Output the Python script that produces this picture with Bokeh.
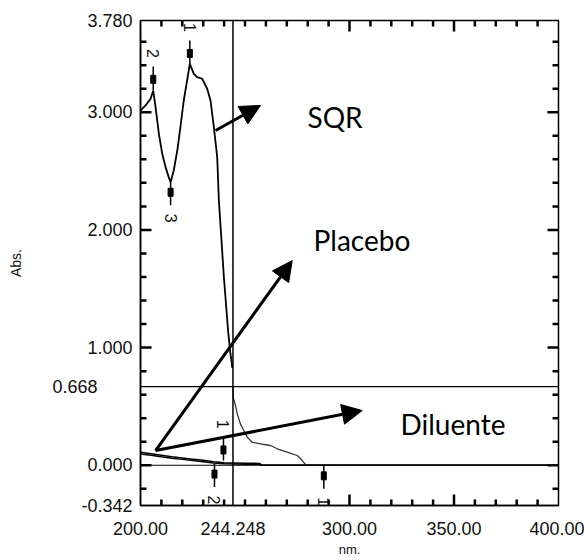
import math
import numpy as np
from bokeh.plotting import figure
from bokeh.models import (Range1d, LinearAxis, FixedTicker, Span, Label, Arrow,
                          NormalHead, ColumnDataSource)
from bokeh.core.properties import value
from bokeh.embed import file_html
from bokeh.resources import INLINE

# ---------------- data ----------------
sqr_upper_nm = [200.0, 202.4, 204.8, 206.1, 207.2, 208.8, 210.4, 212.0, 213.5, 214.4,
                215.9, 217.6, 219.1, 220.7, 222.3, 223.6, 225.5, 227.1, 229.5, 231.9,
                233.5, 235.1, 236.7, 237.5, 239.9, 241.9, 243.0, 243.6, 243.9]
sqr_upper_abs = [3.015, 3.058, 3.114, 3.185, 3.044, 2.817, 2.647, 2.534, 2.449, 2.406,
                 2.505, 2.675, 2.873, 3.100, 3.270, 3.412, 3.327, 3.299, 3.285, 3.200,
                 3.100, 2.873, 2.618, 2.250, 1.598, 1.145, 0.950, 0.880, 0.828]

sqr_lower_nm = [244.2, 244.4, 245.3, 246.3, 247.8, 249.4, 251.1, 253.4, 257.4, 262.2,
                265.4, 270.2, 275.0, 277.4, 279.0, 300.0, 350.0, 400.0]
sqr_lower_abs = [0.668, 0.570, 0.520, 0.437, 0.352, 0.295, 0.239, 0.196, 0.182, 0.168,
                 0.140, 0.111, 0.083, 0.040, 0.005, 0.0, 0.0, 0.0]

placebo_nm = [200, 205, 210, 215, 220, 225, 230, 235, 240, 245, 250, 257, 258, 280, 300, 350, 400]
placebo_abs = [0.110, 0.098, 0.085, 0.072, 0.062, 0.052, 0.042, 0.030, 0.022, 0.020, 0.018,
               0.016, 0.002, 0.001, 0.0, 0.0, 0.0]

diluente_nm = [200, 205, 210, 215, 220, 225, 230, 235, 240, 245, 250, 257, 258, 280, 300, 350, 400]
diluente_abs = [0.095, 0.085, 0.072, 0.060, 0.050, 0.040, 0.030, 0.020, 0.012, 0.010, 0.009,
                0.008, 0.001, 0.0, 0.0, 0.0, 0.0]

# peak / valley picks
peak_nm = [223.6, 206.1, 214.4, 239.7, 235.4, 287.7]
peak_abs = [3.41, 3.19, 2.41, 0.04, 0.015, 0.0]
peak_dir = [1, 1, -1, 1, -1, -1]
peak_label = ["1", "2", "3", "1", "2", "1"]

# cursor
cursor_nm = 244.248
cursor_abs = 0.668

# axes
x_ticks = [200.0, 244.248, 300.0, 350.0, 400.0]
x_tick_labels = ["200.00", "244.248", "300.00", "350.00", "400.00"]
x_minor = [210, 220, 230, 240, 250, 260, 270, 280, 290, 310, 320, 330, 340,
           360, 370, 380, 390]
y_ticks = [-0.342, 0.0, 0.668, 1.0, 2.0, 3.0, 3.78]
y_tick_labels = ["-0.342", "0.000", "0.668", "1.000", "2.000", "3.000", "3.780"]
y_minor = [-0.2, 0.2, 0.4, 0.6, 0.8, 1.2, 1.4, 1.6, 1.8, 2.2, 2.4, 2.6, 2.8,
           3.2, 3.4, 3.6]

# annotations (text + arrows)
ann_text = ["SQR", "Placebo", "Diluente"]
ann_x = [279.9, 282.8, 324.4]
ann_y = [2.962, 1.916, 0.352]
arrow_x0 = [235.9, 207.2, 207.2]
arrow_y0 = [2.845, 0.125, 0.125]
arrow_x1 = [257.4, 272.6, 306.1]
arrow_y1 = [3.058, 1.740, 0.465]

# ---------------- figure ----------------
TICK_FONT = "Liberation Sans"
X0, X1 = 200.0, 400.0
Y0, Y1 = -0.342, 3.78
FW, FH = 418, 485

p = figure(frame_width=FW, frame_height=FH,
           x_range=Range1d(X0, X1), y_range=Range1d(Y0, Y1),
           output_backend="svg", toolbar_location=None,
           x_axis_location=None, y_axis_location=None,
           min_border_left=140, min_border_top=20, min_border_right=26,
           min_border_bottom=55)
p.xgrid.visible = False
p.ygrid.visible = False
p.outline_line_color = "black"
p.outline_line_width = 1.5
p.background_fill_color = "white"
p.border_fill_color = "white"


def style_axis(ax):
    ax.axis_line_color = "black"
    ax.axis_line_width = 1.5
    ax.major_tick_line_color = None
    ax.minor_tick_line_color = None
    ax.major_tick_in = 0
    ax.major_tick_out = 0
    ax.minor_tick_in = 0
    ax.minor_tick_out = 0
    ax.major_label_text_font = TICK_FONT
    ax.major_label_text_font_size = "18px"
    ax.major_label_text_color = "#111111"
    ax.axis_label_text_font = TICK_FONT
    ax.axis_label_text_font_style = "normal"
    ax.axis_label_text_color = "#111111"


NBSP = "\u00a0"
y_overrides = {t: lab for t, lab in zip(y_ticks, y_tick_labels)}
y_overrides[cursor_abs] = y_overrides[cursor_abs] + NBSP * 7

left = LinearAxis(ticker=FixedTicker(ticks=y_ticks, minor_ticks=[]),
                  major_label_overrides=y_overrides,
                  axis_label="Abs.")
style_axis(left)
left.major_label_standoff = 8
left.axis_label_standoff = 25
left.axis_label_text_font_size = "14px"
p.add_layout(left, "left")

bottom = LinearAxis(ticker=FixedTicker(ticks=x_ticks, minor_ticks=[]),
                    major_label_overrides=dict(zip(x_ticks, x_tick_labels)),
                    axis_label="nm.")
style_axis(bottom)
bottom.major_label_standoff = 16
bottom.axis_label_standoff = 4
bottom.axis_label_text_font_size = "13px"
p.add_layout(bottom, "below")

# ---- inward tick marks: small bars whose centres lie just inside the frame ----
px_x = (X1 - X0) / FW   # data units per pixel
px_y = (Y1 - Y0) / FH
y_major_marks = [float(t) for t in y_ticks if t != cursor_abs and Y0 < t < Y1]
x_major_marks = [float(t) for t in x_ticks if t != cursor_nm and X0 < t < X1]
y_minor_marks = [float(t) for t in y_minor if Y0 < t < Y1]
x_minor_marks = [float(t) for t in x_minor if X0 < t < X1]
TW = 2.5  # tick thickness in px
for marks, ln in ((y_major_marks, 11), (y_minor_marks, 6)):
    for edge, sgn in ((X0, 1), (X1, -1)):
        cx = edge + sgn * (ln / 2.0) * px_x
        p.rect(x=[cx] * len(marks), y=marks, width=ln, height=TW,
               width_units="screen", height_units="screen",
               fill_color="black", line_color=None)
for marks, ln in ((x_major_marks, 11), (x_minor_marks, 6)):
    for edge, sgn in ((Y0, 1), (Y1, -1)):
        cy = edge + sgn * (ln / 2.0) * px_y
        p.rect(x=marks, y=[cy] * len(marks), width=TW, height=ln,
               width_units="screen", height_units="screen",
               fill_color="black", line_color=None)

# reference / cursor lines
p.add_layout(Span(location=0.0, dimension="width", line_color="black", line_width=1.2))
p.add_layout(Span(location=cursor_abs, dimension="width", line_color="black", line_width=1.3))
p.add_layout(Span(location=cursor_nm, dimension="height", line_color="black", line_width=1.5))

# spectra
p.line(placebo_nm, placebo_abs, line_color="black", line_width=1.5)
p.line(diluente_nm, diluente_abs, line_color="black", line_width=1.5)
p.line(sqr_upper_nm, sqr_upper_abs, line_color="black", line_width=1.8)
p.line(sqr_lower_nm, sqr_lower_abs, line_color="#333333", line_width=1.3)

# peak picks
pk_nm = np.array(peak_nm)
pk_abs = np.array(peak_abs)
pk_dir = np.array(peak_dir)
pk_src = ColumnDataSource(dict(
    x=pk_nm, y0=pk_abs, y1=pk_abs + pk_dir * 0.2,
    yd=pk_abs + pk_dir * 0.09, yl=pk_abs + pk_dir * 0.31,
    lab=peak_label))
p.segment(x0="x", y0="y0", x1="x", y1="y1", source=pk_src, line_color="black", line_width=1.5)
p.rect(x="x", y="yd", width=5, height=8, width_units="screen", height_units="screen",
       source=pk_src, fill_color="black", line_color="black")
p.text(x="x", y="yl", text="lab", source=pk_src, angle=-math.pi / 2,
       text_align="center", text_baseline="middle",
       text_font=value(TICK_FONT), text_font_size="16px", text_color="#111111")

# arrows and annotation texts
for x0, y0, x1, y1 in zip(arrow_x0, arrow_y0, arrow_x1, arrow_y1):
    p.add_layout(Arrow(end=NormalHead(size=20, fill_color="black", line_color="black"),
                       x_start=x0, y_start=y0, x_end=x1, y_end=y1,
                       line_color="black", line_width=3))
for t, x, y in zip(ann_text, ann_x, ann_y):
    p.add_layout(Label(x=x, y=y, text=t, text_align="left", text_baseline="alphabetic",
                       text_font="Lato", text_font_size="28px", text_color="black"))

open("out.html", "w").write(file_html(p, INLINE))
